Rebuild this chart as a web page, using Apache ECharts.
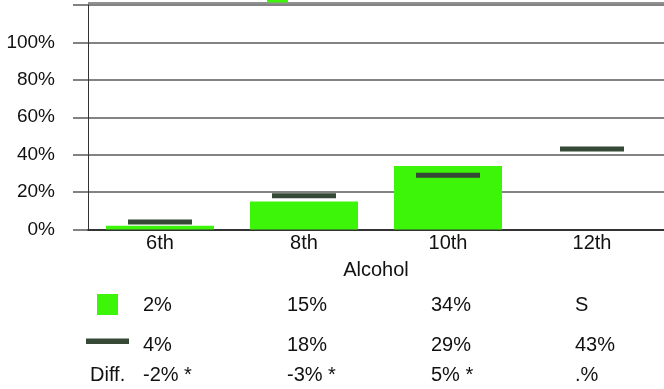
<!DOCTYPE html>
<html>
<head>
<meta charset="utf-8">
<script src="https://cdn.jsdelivr.net/npm/echarts@6/dist/echarts.min.js"></script>
<style>
  html, body { margin: 0; padding: 0; background: #fff; }
  #chart { width: 664px; height: 389px; }
</style>
</head>
<body>
<div id="chart"></div>
<script>
// Grade categories and the two measured series (percent)
const categories = ['6th', '8th', '10th', '12th'];
const barValues = [2, 15, 34, null];      // null = suppressed ("S")
const markerValues = [4, 18, 29, 43];
const diffLabels = ['-2% *', '-3% *', '5% *', '.%'];
const axisTitle = 'Alcohol';

const GREEN = '#3df508';
const DARK = '#364836';
const FONT = 'Liberation Sans, Arial, sans-serif';

const pct = v => (v == null ? 'S' : v + '%');

const chart = echarts.init(document.getElementById('chart'));

chart.setOption({
  animation: false,
  backgroundColor: '#fff',
  textStyle: { fontFamily: FONT },
  grid: {
    left: 88, right: -4, top: 5, bottom: 159.5,
    show: false, containLabel: false
  },
  xAxis: {
    type: 'category',
    data: categories,
    name: axisTitle,
    nameLocation: 'middle',
    nameGap: 31,
    nameTextStyle: { fontSize: 20, color: '#111', fontFamily: FONT },
    axisLine: { lineStyle: { color: '#333', width: 2 } },
    axisTick: { show: false },
    axisLabel: { fontSize: 20, color: '#111', margin: 4, fontFamily: FONT }
  },
  yAxis: {
    type: 'value',
    min: 0, max: 120, interval: 20,
    axisLine: { show: true, lineStyle: { color: '#333', width: 1 } },
    axisTick: { show: true, inside: false, length: 15, lineStyle: { color: '#5a5a5a', width: 1.5 } },
    axisLabel: {
      fontSize: 19, color: '#111', margin: 33, fontFamily: FONT,
      formatter: v => (v > 100 ? '' : v + '%')
    },
    splitLine: { lineStyle: { color: '#5a5a5a', width: 1.5 } }
  },
  series: [
    {
      type: 'bar',
      data: barValues,
      barWidth: '75%',
      itemStyle: { color: GREEN },
      z: 2
    },
    {
      type: 'scatter',
      data: markerValues,
      symbol: 'rect',
      symbolSize: [64, 5],
      itemStyle: { color: DARK, opacity: 1 },
      z: 3
    }
  ]
});

// Table of values under the axis, aligned on the category positions
const rowBar = 305, rowMarker = 345, rowDiff = 375.5;
const graphics = [
  // frame line along the top of the plot
  { type: 'line', shape: { x1: 88, y1: 3, x2: 664, y2: 3 }, style: { stroke: '#222', lineWidth: 1 } },
  // legend swatches for the table rows
  { type: 'rect', shape: { x: 97, y: 294, width: 21, height: 21 }, style: { fill: GREEN } },
  { type: 'rect', shape: { x: 86, y: 338.5, width: 43, height: 5.5 }, style: { fill: DARK } },
  { type: 'text', x: 90, y: rowDiff, style: { text: 'Diff.', fontSize: 20, fontFamily: FONT, fill: '#111', verticalAlign: 'middle' } },
  // clipped swatch at the top edge
  { type: 'rect', shape: { x: 267, y: -10, width: 21, height: 12.5 }, style: { fill: GREEN } }
];
categories.forEach((c, i) => {
  const cx = chart.convertToPixel({ xAxisIndex: 0 }, c);
  const x = cx - 17;
  const rows = [
    [rowBar, pct(barValues[i])],
    [rowMarker, pct(markerValues[i])],
    [rowDiff, diffLabels[i]]
  ];
  rows.forEach(([y, t]) => {
    graphics.push({
      type: 'text', x: x, y: y,
      style: { text: t, fontSize: 20, fontFamily: FONT, fill: '#111', verticalAlign: 'middle', align: 'left' }
    });
  });
});
chart.setOption({ graphic: graphics });
</script>
</body>
</html>
